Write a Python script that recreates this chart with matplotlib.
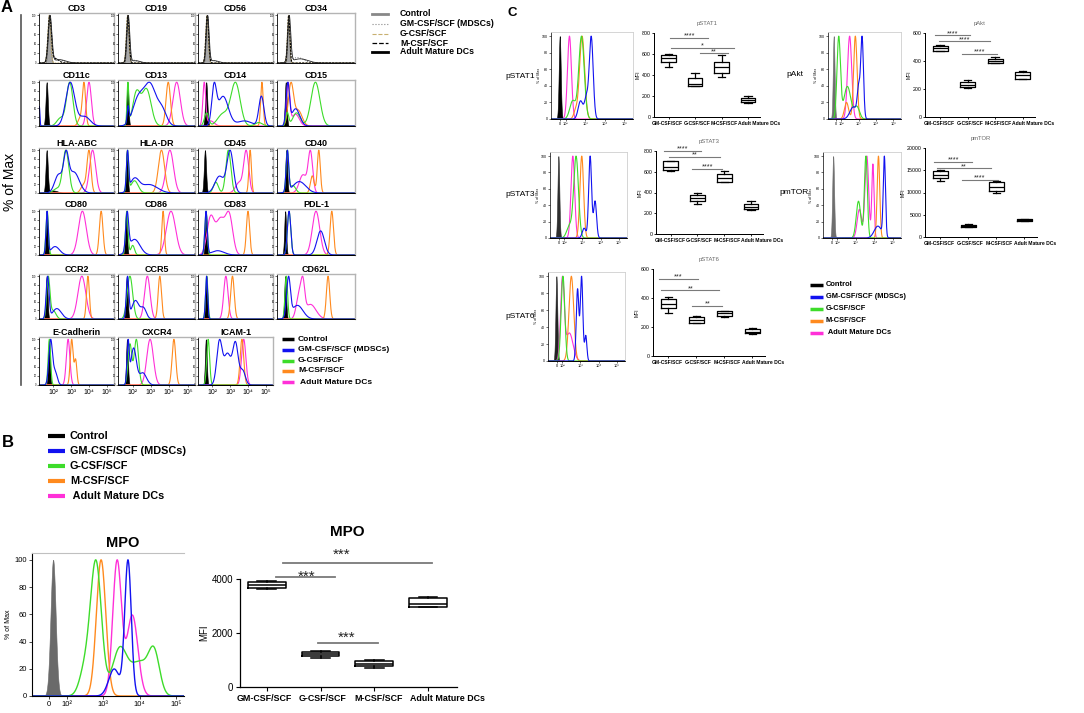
import numpy as np
import matplotlib
matplotlib.use("Agg")
import matplotlib.pyplot as plt
from matplotlib.lines import Line2D

plt.rcParams['font.family'] = ['Liberation Sans', 'DejaVu Sans']

W, H = 1084, 713
fig = plt.figure(figsize=(W / 100, H / 100), dpi=100)

# ---------------------------------------------------------------- colours
BLUE, GREEN, ORANGE, MAGENTA = '#1212f0', '#3ddc2a', '#ff8a1e', '#ff30d8'

# ---------------------------------------------------------------- DATA
LEGEND_LABELS = ['Control', 'GM-CSF/SCF (MDSCs)', 'G-CSF/SCF', 'M-CSF/SCF', 'Adult Mature DCs']
GROUPS = ['GM-CSF/SCF', 'G-CSF/SCF', 'M-CSF/SCF', 'Adult Mature DCs']
DECADE_LABELS = ['10²', '10³', '10⁴', '10⁵']
FLOW_TICK_LABELS = ['0', '10²', '10³', '10⁴', '10⁵']
PCT_TICKS = [0, 20, 40, 60, 80, 100]

# histogram peaks: (log10 position, spread in decades, relative height)
CD3 = dict(ctrl=[(1.77, .07, 100)], gm=[(1.79, .09, 100), (2.25, .3, 8)], g=[(1.77, .08, 100)],
           m=[(1.80, .09, 100), (2.1, .2, 10)], dc=[(1.82, .1, 100), (2.35, .35, 7)])
CD19 = dict(ctrl=[(1.72, .06, 100)], gm=[(1.73, .07, 100), (2.05, .2, 6)], g=[(1.72, .07, 100)],
            m=[(1.74, .07, 100)], dc=[(1.76, .08, 100), (2.15, .25, 5)])
CD56 = dict(ctrl=[(1.70, .06, 100)], gm=[(1.71, .07, 100), (2.0, .2, 6)], g=[(1.70, .07, 100)],
            m=[(1.72, .075, 100)], dc=[(1.74, .08, 100), (2.1, .25, 5)])
CD34 = dict(ctrl=[(1.81, .05, 100)], gm=[(1.83, .07, 100), (2.3, .35, 12)], g=[(1.82, .06, 100)],
            m=[(1.83, .06, 100)], dc=[(1.86, .08, 100), (2.45, .4, 9)])
CD11C = dict(ctrl=[(1.63, .06, 100)], gm=[(1.22, .03, 45), (2.95, .25, 100), (3.75, .3, 22)],
             g=[(2.4, .2, 18), (2.92, .18, 100)], m=[(3.5, .12, 18), (3.72, .09, 100)], dc=[(4.0, .13, 100)])
CD13 = dict(ctrl=[(1.72, .05, 100)], gm=[(1.75, .05, 35), (2.3, .3, 60), (2.95, .32, 92), (3.6, .25, 35)],
            g=[(1.74, .05, 90), (2.2, .2, 70), (2.75, .25, 80)], m=[(3.94, .12, 100)], dc=[(4.4, .2, 100)])
CD14 = dict(ctrl=[(1.66, .06, 100)], gm=[(2.1, .13, 85), (2.6, .3, 70), (3.8, .4, 12), (4.75, .14, 70)],
            g=[(1.68, .12, 30), (2.6, .3, 28), (3.3, .26, 100), (4.6, .2, 8)], m=[(4.78, .07, 100)],
            dc=[(1.55, .08, 100), (1.9, .2, 12)])
CD15 = dict(ctrl=[(1.67, .05, 100)], gm=[(1.78, .09, 95), (2.2, .22, 40)],
            g=[(1.75, .08, 30), (2.25, .2, 30), (3.27, .24, 100)], m=[(1.95, .14, 95), (2.35, .2, 35)],
            dc=[(1.8, .09, 100), (2.2, .2, 28)])
HLA_ABC = dict(ctrl=[(1.63, .06, 100), (2.0, .25, 6)], gm=[(2.3, .22, 48), (2.72, .14, 85), (3.15, .3, 55)],
               g=[(2.2, .2, 10), (2.7, .17, 100)], m=[(3.7, .15, 20), (4.0, .11, 100)], dc=[(4.2, .17, 100)])
HLA_DR = dict(ctrl=[(1.68, .05, 100)], gm=[(1.72, .06, 100), (2.1, .25, 35), (2.9, .45, 22)],
              g=[(1.72, .06, 100), (2.1, .2, 30)], m=[(3.57, .17, 100)], dc=[(4.03, .2, 100)])
CD45 = dict(ctrl=[(1.59, .06, 100)], gm=[(2.4, .25, 40), (3.0, .18, 100)], g=[(2.2, .14, 25), (2.9, .14, 100)],
            m=[(4.12, .07, 100)], dc=[(3.5, .2, 25), (3.9, .14, 100)])
CD40 = dict(ctrl=[(1.70, .05, 100)], gm=[(1.76, .07, 100), (2.4, .35, 28)], g=[(1.76, .07, 100), (2.05, .15, 18)],
            m=[(3.1, .1, 40), (3.45, .08, 100)], dc=[(2.6, .2, 45), (3.0, .12, 100)])
CD80 = dict(ctrl=[(1.63, .05, 100)], gm=[(1.65, .06, 100), (2.1, .25, 20)], g=[(1.66, .07, 100)],
            m=[(4.68, .1, 100)], dc=[(3.63, .22, 100)])
CD86 = dict(ctrl=[(1.64, .05, 100)], gm=[(1.7, .08, 100), (2.1, .3, 42)], g=[(1.68, .07, 100), (2.0, .1, 22)],
            m=[(3.66, .07, 100)], dc=[(4.09, .25, 100)])
CD83 = dict(ctrl=[(1.64, .05, 100)], gm=[(1.65, .07, 100), (2.3, .35, 10)], g=[(1.65, .07, 100)],
            m=[(4.0, .09, 100)], dc=[(1.9, .2, 88), (2.45, .25, 85), (2.95, .2, 92)])
PDL1 = dict(ctrl=[(1.64, .05, 100)], gm=[(1.85, .09, 100), (3.55, .2, 55)], g=[(1.85, .09, 100)],
            m=[(4.15, .09, 100)], dc=[(3.3, .2, 100)])
CCR2 = dict(ctrl=[(1.63, .05, 100)], gm=[(1.68, .08, 100), (2.2, .25, 25)], g=[(1.72, .09, 100), (2.0, .15, 20)],
            m=[(3.94, .08, 100)], dc=[(3.6, .22, 100)])
CCR5 = dict(ctrl=[(1.68, .05, 100)], gm=[(1.72, .07, 100), (2.15, .2, 45), (2.6, .15, 25)], g=[(1.85, .15, 95)],
            m=[(3.48, .09, 100)], dc=[(2.8, .15, 100)])
CCR7 = dict(ctrl=[(1.67, .05, 100)], gm=[(1.68, .06, 100)], g=[(1.69, .065, 100)],
            m=[(3.13, .1, 100)], dc=[(2.76, .12, 100)])
CD62L = dict(ctrl=[(1.64, .05, 100)], gm=[(1.82, .1, 100), (2.3, .3, 35)], g=[(1.7, .07, 100)],
             m=[(3.95, .09, 100)], dc=[(2.4, .15, 75), (2.6, .1, 80), (3.0, .3, 45)])
E_CAD = dict(ctrl=[(1.76, .05, 100)], gm=[(1.85, .1, 100), (2.1, .12, 30)], g=[(1.78, .07, 100)],
             m=[(3.03, .08, 100), (3.25, .07, 55)], dc=[(2.83, .1, 100)])
CXCR4 = dict(ctrl=[(1.69, .05, 100)], gm=[(1.75, .06, 100), (2.05, .15, 90), (2.55, .2, 30)],
             g=[(1.85, .1, 80), (2.2, .12, 90)], m=[(4.25, .1, 100)], dc=[(2.95, .18, 100)])
ICAM1 = dict(ctrl=[(1.64, .05, 100)], gm=[(2.4, .15, 90), (2.85, .2, 65), (3.3, .15, 85), (3.7, .15, 30)],
             g=[(1.77, .08, 100)], m=[(3.66, .1, 100)], dc=[(3.76, .12, 100)])

A_NAMES = [['CD3', 'CD19', 'CD56', 'CD34'],
           ['CD11c', 'CD13', 'CD14', 'CD15'],
           ['HLA-ABC', 'HLA-DR', 'CD45', 'CD40'],
           ['CD80', 'CD86', 'CD83', 'PDL-1'],
           ['CCR2', 'CCR5', 'CCR7', 'CD62L'],
           ['E-Cadherin', 'CXCR4', 'ICAM-1']]
A_SPECS = [[CD3, CD19, CD56, CD34],
           [CD11C, CD13, CD14, CD15],
           [HLA_ABC, HLA_DR, CD45, CD40],
           [CD80, CD86, CD83, PDL1],
           [CCR2, CCR5, CCR7, CD62L],
           [E_CAD, CXCR4, ICAM1]]

# panel C / B histograms
PSTAT1_H = dict(ctrl=[(1.68, .05, 100)], gm=[(2.75, .12, 22), (3.05, .1, 25), (3.3, .1, 100)],
                g=[(2.35, .15, 22), (2.8, .14, 100)], m=[(2.5, .1, 10), (2.83, .13, 100)], dc=[(2.18, .1, 100)])
PAKT_H = dict(ctrl=[(1.56, .05, 100)], gm=[(2.7, .2, 15), (3.0, .08, 35), (3.2, .08, 100)],
              g=[(1.85, .1, 100), (2.35, .2, 40), (2.9, .15, 15)], m=[(2.3, .12, 20), (2.81, .1, 100)],
              dc=[(2.48, .12, 100)])
PSTAT3_H = dict(ctrl=[(1.69, .05, 100)], gm=[(3.1, .1, 12), (3.43, .08, 100), (3.7, .08, 45)],
                g=[(2.3, .15, 15), (2.66, .13, 100)], m=[(2.97, .1, 100)], dc=[(2.48, .1, 100)])
PMTOR_H = dict(ctrl=[(1.78, .05, 100)], gm=[(4.2, .2, 15), (4.55, .06, 100)], g=[(3.15, .12, 45), (3.55, .08, 100)],
               m=[(4.23, .07, 100)], dc=[(3.2, .12, 35), (3.6, .1, 100), (3.93, .06, 90)])
PSTAT6_H = dict(ctrl=[(1.69, .05, 100)], gm=[(2.85, .07, 85), (3.07, .07, 100), (3.3, .06, 30)],
                g=[(2.05, .1, 100)], m=[(2.51, .13, 100)], dc=[(2.02, .1, 100), (2.4, .2, 35)])
MPO_H = dict(ctrl=[(1.62, .07, 100)], gm=[(3.3, .15, 20), (3.68, .09, 100)],
             g=[(2.5, .15, 20), (2.8, .15, 100), (3.45, .2, 35), (4.0, .25, 25), (4.4, .15, 30)],
             m=[(2.94, .13, 100)], dc=[(3.38, .12, 100), (3.8, .15, 60)])

# box statistics per group: whisker low, Q1, median, Q3, whisker high
MPO_BOX = [[3640, 3670, 3780, 3890, 3910], [1080, 1140, 1230, 1310, 1330],
           [690, 780, 870, 950, 990], [2945, 2980, 3080, 3300, 3345]]
PSTAT1_BOX = [[480, 520, 560, 590, 600], [298, 300, 310, 368, 422],
              [378, 416, 474, 528, 586], [138, 140, 160, 182, 198]]
PAKT_BOX = [[468, 475, 490, 505, 515], [204, 211, 232, 250, 264],
            [383, 388, 398, 415, 425], [270, 275, 297, 320, 330]]
PSTAT3_BOX = [[612, 617, 643, 700, 704], [289, 318, 344, 376, 392],
              [498, 504, 543, 575, 610], [231, 238, 263, 289, 318]]
PMTOR_BOX = [[12500, 13300, 14000, 14800, 15100], [2200, 2250, 2500, 2770, 2850],
             [10000, 10260, 11240, 12280, 12500], [3500, 3520, 3800, 4050, 4100]]
PSTAT6_BOX = [[300, 330, 360, 390, 405], [226, 231, 249, 272, 277],
              [272, 277, 295, 307, 311], [152, 157, 168, 185, 191]]

# significance bars: (from group pos, to group pos, bar level, stars, star x, star baseline level)
MPO_SIG = [(1.30, 4.07, 4593, '***', 2.40, 4741), (1.17, 2.27, 4074, '***', 1.74, 3926),
           (1.95, 3.07, 1630, '***', 2.49, 1667)]
PSTAT1_SIG = [(1.05, 2.5, 755, '****', 1.78, 757), (1.1, 3.45, 660, '*', 2.28, 662),
              (2.2, 3.25, 605, '**', 2.72, 607)]
PAKT_SIG = [(0.8, 2.1, 583, '****', 1.45, 585), (0.95, 2.8, 540, '****', 1.88, 542),
            (1.8, 3.05, 449, '****', 2.42, 451)]
PSTAT3_SIG = [(0.74, 2.15, 800, '****', 1.45, 803), (0.93, 2.85, 742, '**', 1.89, 745),
              (1.78, 2.93, 626, '****', 2.36, 629)]
PMTOR_SIG = [(0.78, 2.14, 16800, '****', 1.46, 16880), (0.89, 2.79, 15430, '**', 1.84, 15510),
             (1.77, 3.05, 12900, '****', 2.41, 12980)]
PSTAT6_SIG = [(0.67, 2.04, 533, '***', 1.36, 535), (0.74, 2.81, 452, '**', 1.78, 454),
              (1.85, 2.93, 346, '**', 2.39, 348)]


# ---------------------------------------------------------------- helpers
def axpx(l, t, r, b):
    return fig.add_axes([l / W, 1 - b / H, (r - l) / W, (b - t) / H])


def ftext(x, y, s, **kw):
    fig.text(x / W, 1 - y / H, s, **kw)


def fline(x0, x1, y, **kw):
    fig.add_artist(Line2D([x0 / W, x1 / W], [1 - y / H, 1 - y / H], transform=fig.transFigure, **kw))


def curve(x, comps):
    y = np.zeros_like(x)
    for c, s, h in comps:
        y = y + h * np.exp(-0.5 * ((x - c) / s) ** 2)
    return y / y.max() * 100


COLOR_ORDER = [('dc', MAGENTA), ('m', ORANGE), ('g', GREEN), ('gm', BLUE)]


def draw_flow(ax, spec, xlim, ctrl_color='black', lw=0.8, grey_style=False):
    x = np.linspace(xlim[0], xlim[1], 700)
    if grey_style:
        ax.fill_between(x, curve(x, spec['ctrl']), color='#a8a8a8', ec='#6e6e6e', lw=0.6)
        ax.plot(x, curve(x, spec['gm']), ':', color='#777777', lw=0.7)
        ax.plot(x, curve(x, spec['g']), '--', color='#c8b070', lw=0.7, dashes=(2, 1))
        ax.plot(x, curve(x, spec['m']), '--', color='black', lw=0.8, dashes=(2, 1))
        ax.plot(x, curve(x, spec['dc']), '-', color='#222222', lw=0.6)
    else:
        ax.fill_between(x, curve(x, spec['ctrl']), color=ctrl_color, lw=0.4)
        for key, col in COLOR_ORDER:
            ax.plot(x, curve(x, spec[key]), color=col, lw=lw)
    ax.set_xlim(*xlim)
    ax.set_ylim(0, 105)


def style_flow_box(ax, pct_fs):
    for s in ('top', 'right'):
        ax.spines[s].set_color('#b4b4b4')
        ax.spines[s].set_linewidth(1.0)
    for s in ('left', 'bottom'):
        ax.spines[s].set_color('black')
        ax.spines[s].set_linewidth(0.6)
    ax.set_yticks(PCT_TICKS)
    ax.set_yticklabels([str(v) for v in PCT_TICKS], fontsize=pct_fs)
    ax.tick_params(axis='y', length=1.2, width=0.4, pad=0.5)


def minor_decades(ax):
    mt = [d + np.log10(k) for d in (2, 3, 4) for k in range(2, 10)]
    ax.set_xticks(mt, minor=True)
    ax.tick_params(axis='x', which='minor', length=1.0, width=0.3)


def draw_boxes(ax, stats, width, lw, ylim, yticks, sig, xlim, sig_lw, star_fs, ytick_fs,
               cat_fs, cat_x, adult_x, cat_drop):
    bstats = [dict(whislo=s[0], q1=s[1], med=s[2], q3=s[3], whishi=s[4], fliers=[]) for s in stats]
    pos = list(range(1, len(stats) + 1))
    pr = dict(color='black', linewidth=lw)
    ax.bxp(bstats, positions=pos, widths=width, showfliers=False, boxprops=pr, whiskerprops=pr,
           capprops=pr, medianprops=pr, capwidths=width * 0.5, manage_ticks=False)
    ax.set_xlim(*xlim)
    ax.set_ylim(*ylim)
    ax.set_yticks(yticks)
    ax.set_yticklabels([str(v) for v in yticks], fontsize=ytick_fs)
    ax.set_xticks(pos)
    ax.set_xticklabels([])
    for s in ('top', 'right'):
        ax.spines[s].set_visible(False)
    for s in ('left', 'bottom'):
        ax.spines[s].set_linewidth(0.9 if lw > 1 else lw * 0.8)
    xs = list(cat_x) + [adult_x]
    has = ['center', 'center', 'center', 'left']
    for xx, ha, g in zip(xs, has, GROUPS):
        ax.annotate(g, xy=(xx, 0), xycoords=('data', 'axes fraction'), xytext=(0, -cat_drop),
                    textcoords='offset points', ha=ha, va='top', fontsize=cat_fs, fontweight='bold',
                    annotation_clip=False)
    for x1, x2, y, txt, xs_, ys in sig:
        ax.plot([x1, x2], [y, y], color='#7a7a7a', lw=sig_lw, clip_on=False)
        ax.text(xs_, ys, txt, ha='center', va='baseline', fontsize=star_fs,
                color='#222222', clip_on=False)


# ---------------------------------------------------------------- PANEL A
ROW_Y = [(13, 63), (80, 126), (148, 193), (209, 255), (274, 319), (337, 385)]
COL_X = [(39, 114), (118, 195), (198, 273), (277, 355)]
A_XLIM = (1.2, 5.4)

for r, (names, specs) in enumerate(zip(A_NAMES, A_SPECS)):
    for c, (name, spec) in enumerate(zip(names, specs)):
        l, rr = COL_X[c]
        t, b = ROW_Y[r]
        ax = axpx(l, t, rr, b)
        draw_flow(ax, spec, A_XLIM, lw=0.8, grey_style=(r == 0))
        style_flow_box(ax, 1.8)
        ax.set_title(name, fontsize=6.5, fontweight='bold', pad=1.2)
        if r == len(A_NAMES) - 1:
            ax.set_xticks([2, 3, 4, 5])
            ax.set_xticklabels(DECADE_LABELS, fontsize=5)
            ax.tick_params(axis='x', length=1.2, width=0.4, pad=1.5)
        else:
            ax.set_xticks([])

ftext(7, 8, 'A', fontsize=12, fontweight='bold', ha='center', va='center')
ftext(10, 182, '% of Max', fontsize=10, rotation=90, ha='center', va='center')
fig.add_artist(Line2D([21 / W, 21 / W], [1 - 15 / H, 1 - 385 / H], transform=fig.transFigure,
                      color='#555555', lw=1.2))

# top legend (grey styles)
TOP_STYLES = [dict(color='#888888', lw=2.0, ls='-'), dict(color='#888888', lw=0.8, ls=':'),
              dict(color='#c8b070', lw=0.8, ls='--'), dict(color='black', lw=0.9, ls='--'),
              dict(color='black', lw=2.0, ls='-')]
for yy, lab, st in zip([14, 24, 34, 43, 52], LEGEND_LABELS, TOP_STYLES):
    fline(372, 388, yy, **st)
    ftext(400, yy, lab, fontsize=6.3, fontweight='bold', va='center')

LEG_COLORS = ['black', BLUE, GREEN, ORANGE, MAGENTA]
for yy, lab, col in zip([339, 350, 361, 371, 382], LEGEND_LABELS, LEG_COLORS):
    fline(282, 294, yy, color=col, lw=2.5, solid_capstyle='butt')
    ftext(298, yy, (' ' if lab.startswith('Adult') else '') + lab, fontsize=6.1, fontweight='bold', va='center')

# ---------------------------------------------------------------- PANEL B
ftext(8, 443, 'B', fontsize=12, fontweight='bold', ha='center', va='center')
for yy, lab, col in zip([436, 451, 466, 481, 496], LEGEND_LABELS, LEG_COLORS):
    fline(48, 65, yy, color=col, lw=3.0, solid_capstyle='butt')
    ftext(70, yy, (' ' if lab.startswith('Adult') else '') + lab, fontsize=7.8, fontweight='bold', va='center')

B_XLIM = (1.04, 5.22)
axb = axpx(32, 553, 184, 696)
draw_flow(axb, MPO_H, B_XLIM, ctrl_color='#6a6a6a', lw=1.0)
axb.set_xticks([1.5, 2, 3, 4, 5])
axb.set_xticklabels(FLOW_TICK_LABELS, fontsize=5.5)
minor_decades(axb)
axb.set_yticks(PCT_TICKS)
axb.set_yticklabels([str(v) for v in PCT_TICKS], fontsize=5.5)
axb.tick_params(axis='both', length=2, width=0.5, pad=1.5)
axb.spines['right'].set_visible(False)
axb.spines['top'].set_color('#c0c0c0')
axb.set_ylabel('% of Max', fontsize=5, labelpad=2)
ftext(123, 543, 'MPO', fontsize=10.5, fontweight='bold', ha='center', va='center')

axbb = axpx(240, 579, 457, 687)
draw_boxes(axbb, MPO_BOX, 0.7, 1.1, (0, 4000), [0, 2000, 4000], MPO_SIG, (0.5, 4.54),
           1.3, 11, 7, 6.4, (0.95, 2.04, 3.09), 3.66, 5.0)
axbb.tick_params(axis='both', length=3, width=0.8, pad=2)
axbb.set_ylabel('MFI', fontsize=7, labelpad=2)
ftext(347, 532, 'MPO', fontsize=11, fontweight='bold', ha='center', va='center')

# ---------------------------------------------------------------- PANEL C
ftext(512, 13, 'C', fontsize=9.5, fontweight='bold', ha='center', va='center')
C_XLIM = (1.23, 5.45)
C_HISTS = [((551, 32, 633, 119), PSTAT1_H, 'black', 'pSTAT1', (505, 77)),
           ((828, 32, 901, 119), PAKT_H, '#6e6e6e', 'pAkt', (786, 75)),
           ((550, 152, 627, 238), PSTAT3_H, '#2e2e2e', 'pSTAT3', (505, 195)),
           ((823, 152, 901, 238), PMTOR_H, '#6e6e6e', 'pmTOR', (779, 192)),
           ((548, 272, 625, 361), PSTAT6_H, '#222222', 'pSTAT6', (505, 316))]
for box, spec, cc, lab, (lx, ly) in C_HISTS:
    ax = axpx(*box)
    draw_flow(ax, spec, C_XLIM, ctrl_color=cc, lw=0.8)
    ax.set_xticks([1.7, 2, 3, 4, 5])
    ax.set_xticklabels(FLOW_TICK_LABELS, fontsize=2.8)
    minor_decades(ax)
    ax.set_yticks(PCT_TICKS)
    ax.set_yticklabels([str(v) for v in PCT_TICKS], fontsize=2.6)
    ax.tick_params(axis='both', which='major', length=1.2, width=0.4, pad=0.8)
    ax.spines['left'].set_linestyle((0, (2, 1)))
    ax.spines['left'].set_linewidth(0.5)
    ax.spines['bottom'].set_linewidth(0.6)
    for s in ('top', 'right'):
        ax.spines[s].set_color('#cfcfcf')
        ax.spines[s].set_linewidth(0.6)
    ax.set_ylabel('% of Max', fontsize=2.6, labelpad=1)
    ftext(lx, ly, lab, fontsize=6.0, ha='left', va='center')

C_BOXES = [((654, 33, 760, 117), PSTAT1_BOX, (0, 800), [0, 200, 400, 600, 800], PSTAT1_SIG, 'pSTAT1'),
           ((925, 33, 1035, 117), PAKT_BOX, (0, 600), [0, 200, 400, 600], PAKT_SIG, 'pAkt'),
           ((656, 151, 763, 234), PSTAT3_BOX, (0, 800), [0, 200, 400, 600, 800], PSTAT3_SIG, 'pSTAT3'),
           ((925, 148, 1037, 237), PMTOR_BOX, (0, 20000), [0, 5000, 10000, 15000, 20000], PMTOR_SIG, 'pmTOR'),
           ((653, 269, 765, 356), PSTAT6_BOX, (0, 600), [0, 200, 400, 600], PSTAT6_SIG, 'pSTAT6')]
for box, stats, ylim, yt, sig, title in C_BOXES:
    ax = axpx(*box)
    draw_boxes(ax, stats, 0.55, 0.9, ylim, yt, sig, (0.45, 4.45), 0.8, 5.2, 3.8,
               3.6, (0.97, 2.08, 3.1), 3.63, 3.0)
    ax.tick_params(axis='both', length=1.5, width=0.6, pad=1)
    ax.set_ylabel('MFI', fontsize=3.6, labelpad=1)
    ax.set_title(title, fontsize=4.2, color='#666666', pad=6)

for yy, lab, col in zip([285, 297, 309, 321, 333], LEGEND_LABELS, LEG_COLORS):
    fline(810, 823, yy, color=col, lw=2.5, solid_capstyle='butt')
    ftext(826, yy, (' ' if lab.startswith('Adult') else '') + lab, fontsize=5.4, fontweight='bold', va='center')

fig.savefig('out.png', dpi=100)
